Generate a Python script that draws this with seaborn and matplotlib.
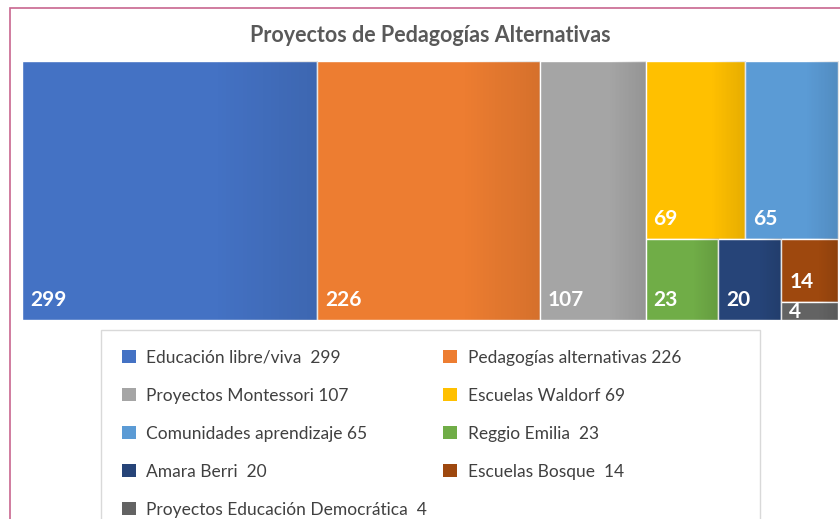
import numpy as np
import matplotlib.pyplot as plt
import seaborn as sns
from matplotlib.patches import Rectangle, Patch

# datos del treemap
categorias = ["Educación libre/viva", "Pedagogías alternativas", "Proyectos Montessori",
              "Escuelas Waldorf", "Comunidades aprendizaje", "Reggio Emilia",
              "Amara Berri", "Escuelas Bosque", "Proyectos Educación Democrática"]
valores = [299, 226, 107, 69, 65, 23, 20, 14, 4]
etiquetas_leyenda = ["Educación libre/viva  299", "Pedagogías alternativas 226",
                     "Proyectos Montessori 107", "Escuelas Waldorf 69",
                     "Comunidades aprendizaje 65", "Reggio Emilia  23",
                     "Amara Berri  20", "Escuelas Bosque  14",
                     "Proyectos Educación Democrática  4"]
colores = ["#4472C4", "#ED7D31", "#A5A5A5", "#FFC000", "#5B9BD5",
           "#70AD47", "#264478", "#9E480E", "#636363"]

# estructura de agrupación (como la dispone Excel): índices anidados
estructura = [0, 1, 2, [[3, 4], [5, 6, [7, 8]]]]

sns.set_theme(style="white")
plt.rcParams['font.family'] = ['Lato', 'DejaVu Sans']
paleta = sns.color_palette(colores)


def total(nodo):
    if isinstance(nodo, int):
        return valores[nodo]
    return sum(total(c) for c in nodo)


def disponer(nodo, x, y, w, h, horizontal, salida):
    if isinstance(nodo, int):
        salida[nodo] = (x, y, w, h)
        return
    tot = total(nodo)
    if horizontal:
        pos = x
        for c in nodo:
            cw = w * total(c) / tot
            disponer(c, pos, y, cw, h, False, salida)
            pos += cw
    else:
        pos = y + h
        for c in nodo:
            ch = h * total(c) / tot
            pos -= ch
            disponer(c, x, pos, w, ch, True, salida)


W, H = 840, 519
fig = plt.figure(figsize=(W / 100, H / 100), dpi=100)

# marco exterior del gráfico
fig.patches.append(Rectangle((10 / W, -0.1), 2, (1 - 8 / H) + 0.1, transform=fig.transFigure,
                             fill=False, edgecolor="#C8668F", lw=1.2))

ax_w_px, ax_h_px = 816, 259
ax = fig.add_axes([22 / W, 1 - 320 / H, ax_w_px / W, ax_h_px / H])
ax.set_xlim(0, 1)
ax.set_ylim(0, 1)
ax.axis('off')

rects = {}
disponer(estructura, 0, 0, 1, 1, True, rects)

# sombreado suave hacia la derecha
grad = np.linspace(0, 1, 256)
alpha = np.clip((grad - 0.65) / 0.35, 0, 1) * 0.10
sombra = np.zeros((1, 256, 4))
sombra[..., 3] = alpha

for i, v in enumerate(valores):
    x, y, w, h = rects[i]
    ax.add_patch(Rectangle((x, y), w, h, facecolor=paleta[i], edgecolor="white", lw=1, zorder=1))
    ax.imshow(sombra, extent=(x, x + w, y, y + h), aspect='auto', zorder=2, interpolation='bilinear')
    h_px = h * ax_h_px
    off = min(14, h_px - 16)
    ax.annotate(str(v), xy=(x, y), xytext=(8, off), textcoords='offset pixels',
                color="white", fontsize=15, fontweight='bold', ha='left', va='baseline', zorder=3)
ax.set_xlim(0, 1)
ax.set_ylim(0, 1)

fig.text(430 / W, 1 - 36 / H, "Proyectos de Pedagogías Alternativas", ha='center', va='center',
         fontsize=15.5, fontweight='bold', color="#595959")

# leyenda (orden por filas como en el original)
orden = [0, 2, 4, 6, 8, 1, 3, 5, 7]
handles = [Patch(facecolor=paleta[i], edgecolor='none') for i in orden]
labels = [etiquetas_leyenda[i] for i in orden]
fig.legend(handles, labels, ncol=2, loc='upper left',
           bbox_to_anchor=(113 / W, 1 - 341 / H), frameon=False, borderpad=0,
           fontsize=12.5, handlelength=0.8, handleheight=0.8, handletextpad=0.6,
           labelspacing=1.27, columnspacing=0.95, labelcolor="#404040")
fig.patches.append(Rectangle((101 / W, -0.1), 659 / W, (1 - 330 / H) + 0.1,
                             transform=fig.transFigure, fill=False, edgecolor="#D9D9D9", lw=1))

fig.savefig("out.png", dpi=100)
